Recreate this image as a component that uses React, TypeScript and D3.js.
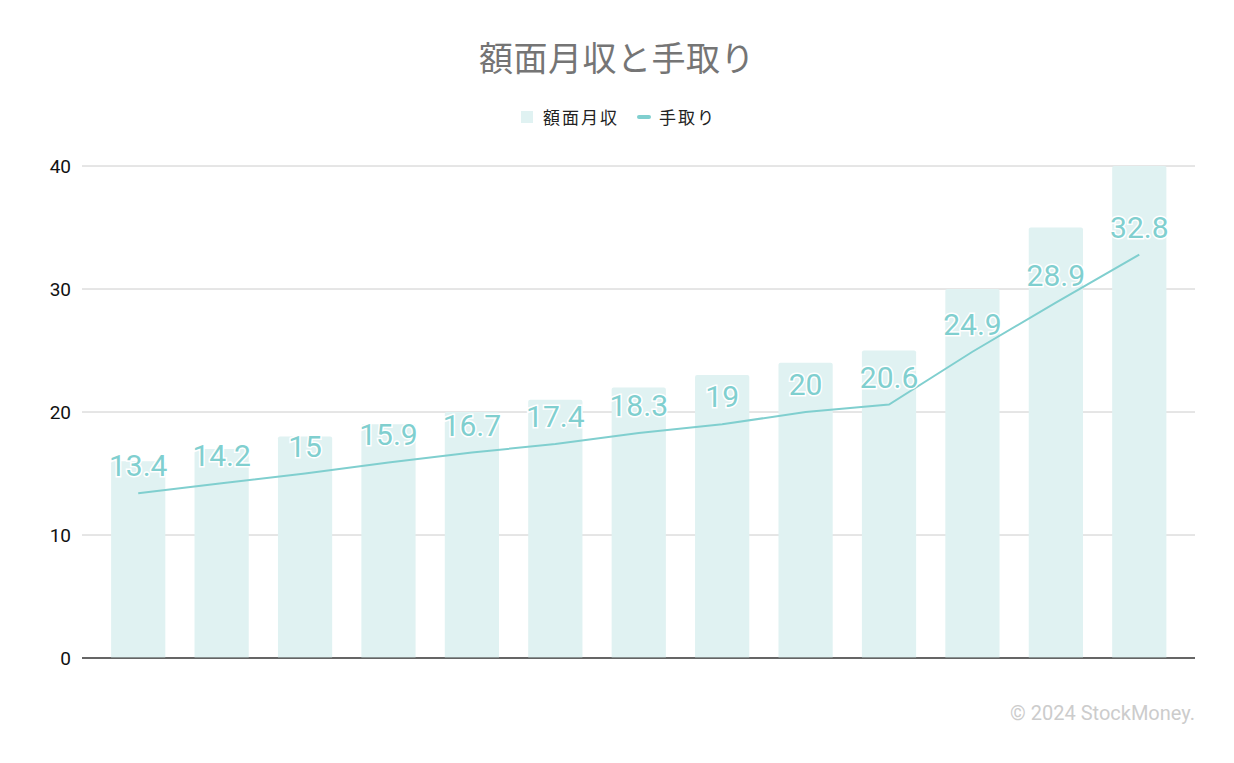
import React from 'react';
import * as d3 from 'd3';

const categories = ['1', '2', '3', '4', '5', '6', '7', '8', '9', '10', '11', '12', '13'];
const grossIncome = [16, 17, 18, 19, 20, 21, 22, 23, 24, 25, 30, 35, 40];
const takeHome = [13.4, 14.2, 15, 15.9, 16.7, 17.4, 18.3, 19, 20, 20.6, 24.9, 28.9, 32.8];
const yTicks = [0, 10, 20, 30, 40];

const W = 1234;
const H = 763;
const BAR = '#e0f2f2';
const LINE = '#80cfcf';
const FONT = 'Roboto, "Noto Sans CJK JP", sans-serif';

export default function App() {
  const x = d3.scaleBand<string>().domain(categories).range([96.5, 1181]).paddingInner(0.35).paddingOuter(0.175);
  const y = d3.scaleLinear().domain([0, 40]).range([658, 166]);
  const line = d3
    .line<number>()
    .x((_, i) => (x(categories[i]) as number) + x.bandwidth() / 2)
    .y((d) => y(d));

  return (
    <svg width={W} height={H} style={{ position: 'absolute', left: 0, top: 0, fontFamily: FONT }}>
      <rect width={W} height={H} fill="#fff" />
      <text x={617} y={71} textAnchor="middle" fontSize={34} fill="#757575" letterSpacing={0.5}>
        額面月収と手取り
      </text>
      {/* legend */}
      <g fontSize={17} fill="#222" letterSpacing={2}>
        <rect x={521} y={111} width={12} height={12} fill={BAR} />
        <text x={543} y={124}>額面月収</text>
        <rect x={637} y={115} width={14} height={4} rx={2} fill={LINE} />
        <text x={659} y={124}>手取り</text>
      </g>
      {/* grid */}
      {yTicks.map((t) => (
        <g key={t}>
          <line x1={82} x2={1195} y1={y(t)} y2={y(t)} stroke={t === 0 ? '#333' : '#ccc'} strokeWidth={1} />
          <text x={71} y={y(t) + 7} textAnchor="end" fontSize={19} fill="#111">
            {t}
          </text>
        </g>
      ))}
      {/* bars */}
      {grossIncome.map((v, i) => {
        const bx = x(categories[i]) as number;
        const top = y(v);
        const bw = x.bandwidth();
        const r = 2;
        const d = `M${bx},${y(0)}V${top + r}Q${bx},${top} ${bx + r},${top}H${bx + bw - r}Q${bx + bw},${top} ${bx + bw},${top + r}V${y(0)}Z`;
        return <path key={i} d={d} fill={BAR} />;
      })}
      <line x1={82} x2={1195} y1={y(0)} y2={y(0)} stroke="#333" strokeWidth={1} />
      {/* line */}
      <path d={line(takeHome) || ''} fill="none" stroke={LINE} strokeWidth={2} />
      {/* labels */}
      {takeHome.map((v, i) => (
        <text
          key={i}
          x={(x(categories[i]) as number) + x.bandwidth() / 2}
          y={y(v) - 17}
          textAnchor="middle"
          fontSize={30}
          fill={LINE}
          stroke="#fff"
          strokeWidth={3}
          paintOrder="stroke"
        >
          {v}
        </text>
      ))}
      <text x={1195} y={720} textAnchor="end" fontSize={20} fill="#ccc">
        © 2024 StockMoney.
      </text>
    </svg>
  );
}
